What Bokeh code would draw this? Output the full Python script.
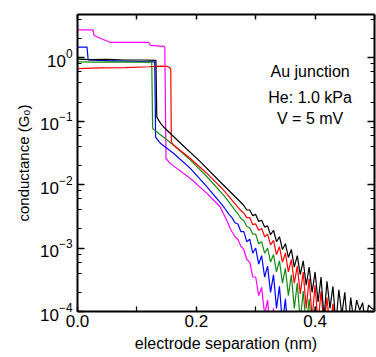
from bokeh.plotting import figure
from bokeh.models import LogAxis, LinearAxis, FixedTicker, LogTicker, Label, PrintfTickFormatter, Range1d
from bokeh.embed import file_html
from bokeh.resources import INLINE

# ---- data (electrode separation in nm, conductance in G0) ----
mag_x = [0.0, 0.026, 0.028, 0.039, 0.056, 0.120, 0.123, 0.146, 0.147, 0.149, 0.156, 0.190, 0.218, 0.240, 0.251, 0.257,
         0.260, 0.265, 0.270, 0.275, 0.280, 0.285, 0.290, 0.295, 0.300, 0.305, 0.310, 0.315, 0.320, 0.325, 0.330, 0.333]
mag_g = [2.74, 2.74, 2.24, 2.01, 1.74, 1.74, 1.56, 1.51, 1.45, 0.0258, 0.0216, 0.0125, 0.00727, 0.00448, 0.00277, 0.00205,
         0.00182, 0.00151, 0.00138, 0.00107, 0.00095, 0.00066, 0.00060, 0.00035, 0.00035, 0.000178, 0.00024, 0.000089,
         0.000151, 0.00005, 0.000112, 0.00004]

blue_x = [0.0, 0.016, 0.018, 0.05, 0.09, 0.130, 0.1315, 0.134, 0.140, 0.162, 0.190, 0.218, 0.246,
          0.250, 0.255, 0.260, 0.265, 0.270, 0.275, 0.280, 0.285, 0.290, 0.295, 0.300, 0.305, 0.310, 0.315,
          0.320, 0.325, 0.330, 0.335, 0.340, 0.345, 0.350, 0.355]
blue_g = [1.47, 1.47, 0.92, 0.90, 0.88, 0.86, 0.056, 0.052, 0.0444, 0.031, 0.018, 0.00923, 0.00448,
          0.00398, 0.00339, 0.00302, 0.00251, 0.00240, 0.00182, 0.00182, 0.00126, 0.00138, 0.00083, 0.00100,
          0.00056, 0.00076, 0.00035, 0.00052, 0.00020, 0.00038, 0.000112, 0.00025, 0.000063, 0.000158, 0.00004]

green_x = [0.0, 0.03, 0.06, 0.10, 0.125, 0.1265, 0.130, 0.137, 0.162, 0.190, 0.218, 0.246,
           0.270, 0.275, 0.280, 0.285, 0.290, 0.295, 0.300, 0.305, 0.310, 0.315, 0.320, 0.325, 0.330,
           0.335, 0.340, 0.345, 0.350, 0.355, 0.360, 0.365, 0.370, 0.375, 0.380, 0.385, 0.390, 0.395,
           0.400, 0.405]
green_g = [0.86, 0.85, 0.86, 0.85, 0.85, 0.0765, 0.072, 0.0638, 0.0418, 0.0243, 0.0133, 0.00684,
           0.00347, 0.00295, 0.00269, 0.00219, 0.00209, 0.00166, 0.00166, 0.00117, 0.00126, 0.00083, 0.00100,
           0.00060, 0.00079, 0.00042, 0.00063, 0.00028, 0.00048, 0.000178, 0.00038, 0.000112, 0.00028,
           0.000071, 0.00021, 0.000056, 0.000158, 0.000045, 0.00012, 0.00004]

red_x = [0.0, 0.04, 0.08, 0.120, 0.140, 0.151, 0.155, 0.157, 0.158, 0.162, 0.190, 0.218, 0.246, 0.274,
         0.280, 0.285, 0.290, 0.295, 0.300, 0.305, 0.310, 0.315, 0.320, 0.325, 0.330, 0.335, 0.340,
         0.345, 0.350, 0.355, 0.360, 0.365, 0.370, 0.375, 0.380, 0.385, 0.390, 0.395, 0.400, 0.405,
         0.410, 0.415, 0.420, 0.425, 0.430, 0.435]
red_g = [0.671, 0.69, 0.70, 0.72, 0.738, 0.73, 0.70, 0.66, 0.0471, 0.0418, 0.0258, 0.0150, 0.0082, 0.00397,
         0.00355, 0.00302, 0.00302, 0.00234, 0.00240, 0.00191, 0.00204, 0.00151, 0.00166, 0.00112, 0.00132,
         0.00079, 0.00105, 0.00060, 0.00083, 0.00042, 0.00066, 0.00028, 0.00052, 0.00019, 0.00042,
         0.000112, 0.00033, 0.000079, 0.00026, 0.000063, 0.00021, 0.000056, 0.000166, 0.00005, 0.000132, 0.00004]

black_x = [0.0, 0.02, 0.05, 0.08, 0.11, 0.132, 0.1335, 0.140, 0.145, 0.174, 0.207, 0.240, 0.274,
           0.280, 0.285, 0.290, 0.295, 0.300, 0.305, 0.310, 0.315, 0.320, 0.325, 0.330, 0.335, 0.340,
           0.345, 0.350, 0.355, 0.360, 0.365, 0.370, 0.375, 0.380, 0.385, 0.390, 0.395, 0.400, 0.405,
           0.410, 0.415, 0.420, 0.425, 0.430, 0.435, 0.440, 0.445, 0.450, 0.455, 0.460, 0.465, 0.470,
           0.475, 0.480, 0.485, 0.490, 0.495, 0.500]
black_g = [0.95, 0.93, 0.94, 0.92, 0.92, 0.91, 0.116, 0.0917, 0.081, 0.0444, 0.0228, 0.0111, 0.00537,
           0.00468, 0.00398, 0.00398, 0.00324, 0.00339, 0.00263, 0.00275, 0.00214, 0.00224, 0.00162, 0.00191,
           0.00126, 0.00151, 0.00095, 0.00117, 0.00071, 0.00095, 0.00050, 0.00076, 0.00038, 0.00063,
           0.00026, 0.00050, 0.00020, 0.00042, 0.000141, 0.00035, 0.000079, 0.00030, 0.000112, 0.00025,
           0.000063, 0.00022, 0.000089, 0.00020, 0.00005, 0.000166, 0.000071, 0.000151, 0.000105,
           0.000138, 0.000063, 0.000126, 0.000112, 0.000107]

x_major = [0.0, 0.2, 0.4]
x_minor = [0.1, 0.3, 0.5]
top_ticks = [0.0, 0.1, 0.2, 0.3, 0.4, 0.5]
notes = ["Au junction", "He: 1.0 kPa", "V = 5 mV"]
note_y = [0.608, 0.239, 0.1115]

FONT = "Liberation Sans"

p = figure(width=376, height=357, y_axis_type="log",
           x_range=Range1d(0, 0.5), y_range=Range1d(1e-4, 4.8),
           output_backend="svg", toolbar_location=None,
           min_border_left=77, min_border_right=2, min_border_top=14, min_border_bottom=46,
           x_axis_location=None, y_axis_location=None)
p.grid.visible = False
p.outline_line_color = None

xb = LinearAxis(ticker=FixedTicker(ticks=x_major, minor_ticks=x_minor),
                formatter=PrintfTickFormatter(format="%.1f"),
                axis_label="electrode separation (nm)")
yl = LogAxis(ticker=LogTicker(), axis_label="conductance (G\u2080)")
xt = LinearAxis(ticker=FixedTicker(ticks=top_ticks, minor_ticks=[]))
yr = LogAxis(ticker=LogTicker())

for ax in (xb, yl, xt, yr):
    ax.axis_line_width = 2
    ax.axis_line_color = "black"
    ax.major_tick_out = 0
    ax.minor_tick_out = 0
    ax.major_tick_line_width = 1.5
    ax.minor_tick_line_width = 1.2
    ax.major_label_text_font = FONT
    ax.axis_label_text_font = FONT
    ax.axis_label_text_font_style = "normal"
    ax.major_label_text_color = "black"
    ax.axis_label_text_color = "black"

xb.major_tick_in = 5
xb.minor_tick_in = 5
xb.major_label_text_font_size = "17px"
xb.major_label_standoff = 3
xb.axis_label_text_font_size = "16px"
xb.axis_label_standoff = 5

yl.major_tick_in = 7
yl.minor_tick_in = 4
yl.major_label_text_font_size = "17px"
yl.major_label_standoff = 5
yl.axis_label_text_font_size = "15px"
yl.axis_label_standoff = 5

for ax in (xt, yr):
    ax.major_label_text_font_size = "1px"
    ax.major_label_text_color = None
    ax.major_label_standoff = 0

xt.major_tick_in = 5
xt.minor_tick_in = 0
yr.major_tick_in = 7
yr.minor_tick_in = 4

p.add_layout(xb, "below")
p.add_layout(yl, "left")
p.add_layout(xt, "above")
p.add_layout(yr, "right")

lw = 1.2
p.line(mag_x, mag_g, line_color="#ff00ff", line_width=lw)
p.line(blue_x, blue_g, line_color="#0000ff", line_width=lw)
p.line(green_x, green_g, line_color="#138a13", line_width=lw)
p.line(red_x, red_g, line_color="#ff0000", line_width=lw)
p.line(black_x, black_g, line_color="#000000", line_width=lw)

for t, yv in zip(notes, note_y):
    p.add_layout(Label(x=0.3916, y=yv, text=t, text_align="center", text_baseline="middle",
                       text_font=FONT, text_font_size="16px", text_color="black"))

open("out.html", "w").write(file_html(p, INLINE))
